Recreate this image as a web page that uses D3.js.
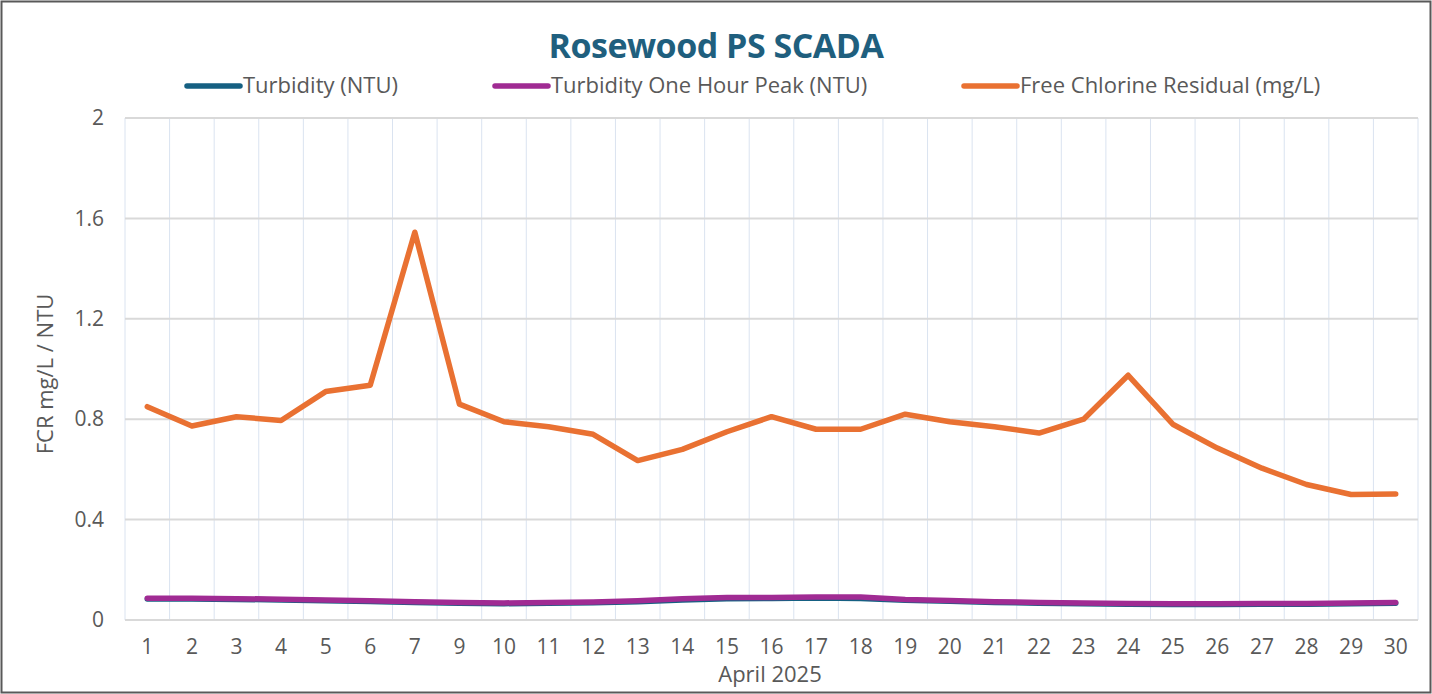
<html>
<head>
<meta charset="utf-8">
<script src="https://cdn.jsdelivr.net/npm/d3@7"></script>
<style>
  body { margin: 0; background: #fff; }
  text { font-family: "Open Sans", sans-serif; fill: #595959; }
</style>
</head>
<body>
<div id="chart"></div>
<script>
// data (April 2025, day 8 missing)
var days = ["1","2","3","4","5","6","7","9","10","11","12","13","14","15","16","17","18","19","20","21","22","23","24","25","26","27","28","29","30"];
var turbidity = [0.084,0.084,0.082,0.080,0.077,0.074,0.070,0.067,0.065,0.067,0.069,0.073,0.080,0.085,0.086,0.088,0.086,0.079,0.075,0.070,0.067,0.065,0.063,0.062,0.062,0.063,0.063,0.065,0.067];
var turbPeak = [0.087,0.087,0.085,0.083,0.080,0.077,0.073,0.070,0.068,0.070,0.072,0.077,0.085,0.090,0.090,0.092,0.092,0.082,0.078,0.073,0.070,0.068,0.066,0.065,0.065,0.066,0.066,0.068,0.070];
var fcr = [0.85,0.773,0.81,0.795,0.91,0.935,1.545,0.86,0.79,0.77,0.74,0.635,0.68,0.75,0.81,0.76,0.76,0.82,0.79,0.77,0.745,0.80,0.975,0.78,0.685,0.605,0.54,0.50,0.502];
var yTicks = [0, 0.4, 0.8, 1.2, 1.6, 2];

var W = 1432, H = 694;
var pLeft = 125, pRight = 1418, pTop = 118, pBottom = 620;

var svg = d3.select("#chart").append("svg").attr("width", W).attr("height", H);

// outer border
svg.append("rect").attr("x", 1.5).attr("y", 1.5).attr("width", W - 3).attr("height", H - 3)
  .attr("fill", "#fff").attr("stroke", "#595959").attr("stroke-width", 2);

var x = d3.scaleBand().domain(days).range([pLeft, pRight]);
var y = d3.scaleLinear().domain([0, 2]).range([pBottom, pTop]);

// vertical gridlines at category edges
var edges = days.map(function(d) { return x(d); }).concat([pRight]);
svg.append("g").selectAll("line").data(edges).enter().append("line")
  .attr("x1", function(d) { return d; }).attr("x2", function(d) { return d; })
  .attr("y1", pTop).attr("y2", pBottom)
  .attr("stroke", "#dae3f0").attr("stroke-width", 1);

// horizontal gridlines
svg.append("g").selectAll("line").data(yTicks).enter().append("line")
  .attr("x1", pLeft).attr("x2", pRight)
  .attr("y1", function(d) { return y(d); }).attr("y2", function(d) { return y(d); })
  .attr("stroke", "#d9d9d9").attr("stroke-width", 2);

// y axis
var yAxis = svg.append("g").attr("transform", "translate(" + pLeft + ",0)")
  .call(d3.axisLeft(y).tickValues(yTicks).tickSize(0).tickPadding(21).tickFormat(function(d) { return d; }));
yAxis.select(".domain").remove();
yAxis.selectAll("text").style("font-size", "21px").attr("fill", "#595959");

// x axis
var xAxis = svg.append("g").attr("transform", "translate(0," + pBottom + ")")
  .call(d3.axisBottom(x).tickSize(0).tickPadding(19));
xAxis.select(".domain").remove();
xAxis.selectAll("text").style("font-size", "21px").attr("fill", "#595959");

// axis titles
svg.append("text").attr("transform", "translate(53,374) rotate(-90)")
  .attr("text-anchor", "middle").style("font-size", "22px").text("FCR mg/L / NTU");
svg.append("text").attr("x", 770).attr("y", 682)
  .attr("text-anchor", "middle").style("font-size", "22px").text("April 2025");

// title
svg.append("text").attr("x", 716).attr("y", 58).attr("text-anchor", "middle")
  .style("font-size", "34px").style("font-weight", "bold").style("fill", "#1f5f7e")
  .style("letter-spacing", "-0.5px")
  .text("Rosewood PS SCADA");

// lines
var line = d3.line()
  .x(function(d, i) { return x(days[i]) + x.bandwidth() / 2; })
  .y(function(d) { return y(d); });

var series = [
  { name: "Turbidity (NTU)", values: turbidity, color: "#156082", lx: 187 },
  { name: "Turbidity One Hour Peak (NTU)", values: turbPeak, color: "#a02b93", lx: 495 },
  { name: "Free Chlorine Residual (mg/L)", values: fcr, color: "#e97132", lx: 964 }
];

series.forEach(function(s) {
  svg.append("path").datum(s.values).attr("d", line)
    .attr("fill", "none").attr("stroke", s.color).attr("stroke-width", 5.5)
    .attr("stroke-linejoin", "round").attr("stroke-linecap", "round");
});

// legend
series.forEach(function(s) {
  svg.append("line").attr("x1", s.lx).attr("x2", s.lx + 53).attr("y1", 86).attr("y2", 86)
    .attr("stroke", s.color).attr("stroke-width", 5.5).attr("stroke-linecap", "round");
  svg.append("text").attr("x", s.lx + 56).attr("y", 93).style("font-size", "22px").text(s.name);
});
</script>
</body>
</html>
